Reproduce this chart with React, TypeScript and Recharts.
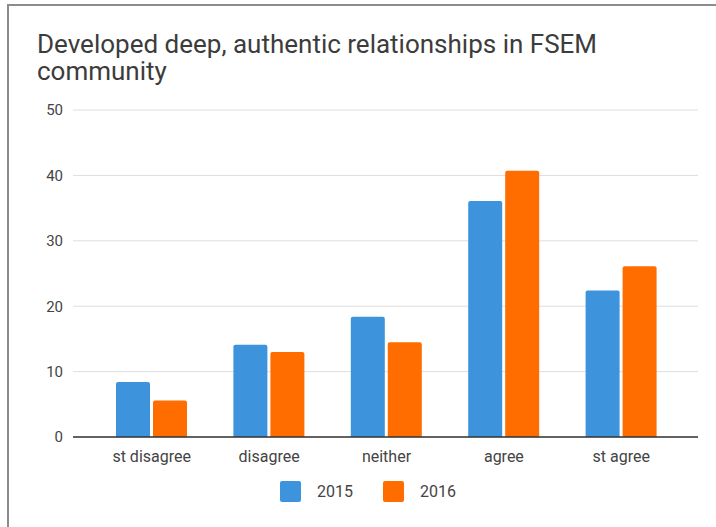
import { BarChart, Bar, XAxis, YAxis, CartesianGrid, Legend } from "recharts";

const categories = ["st disagree", "disagree", "neither", "agree", "st agree"];
const values2015 = [8.4, 14.1, 18.4, 36.1, 22.4];
const values2016 = [5.6, 13.0, 14.5, 40.7, 26.1];
const yTicks = [0, 10, 20, 30, 40, 50];

const data = categories.map((name, i) => ({
  name,
  "2015": values2015[i],
  "2016": values2016[i],
}));

const FONT = "Roboto, 'Noto Sans', sans-serif";

const renderLegend = (props: any) => {
  const { payload } = props;
  return (
    <div style={{ display: "flex", fontFamily: FONT, fontSize: 16, color: "#444", height: 21 }}>
      {payload.map((entry: any) => (
        <div key={entry.value} style={{ display: "flex", alignItems: "center", marginRight: 30 }}>
          <div style={{ width: 21, height: 21, background: entry.color, borderRadius: 2, marginRight: 16 }} />
          <span>{entry.value}</span>
        </div>
      ))}
    </div>
  );
};

export default function App() {
  return (
    <div style={{ position: "absolute", left: 0, top: 0, width: 716, height: 527, background: "#fff", overflow: "hidden" }}>
      {/* frame */}
      <div
        style={{
          position: "absolute",
          left: 7,
          top: 4,
          width: 716,
          height: 527,
          borderLeft: "2px solid #8c8c8c",
          borderTop: "2px solid #8c8c8c",
        }}
      />

      {/* TITLE */}
      <div
        style={{
          position: "absolute",
          left: 37,
          top: 31,
          fontFamily: FONT,
          fontSize: 26,
          lineHeight: "27px",
          color: "#3c3c3c",
          whiteSpace: "nowrap",
        }}
      >
        <div>Developed deep, authentic relationships in FSEM</div>
        <div>community</div>
      </div>

      <div style={{ position: "absolute", left: 0, top: 0 }}>
        <BarChart
          width={716}
          height={527}
          data={data}
          margin={{ top: 110, right: 18, bottom: 39, left: 0 }}
          barGap={3}
          barSize={34}
        >
          {/* GRID */}
          <CartesianGrid stroke="#dedede" vertical={false} />

          {/* AXES */}
          <XAxis
            dataKey="name"
            padding={{ left: 20, right: 18 }}
            axisLine={{ stroke: "#333", strokeWidth: 1.5 }}
            tickLine={false}
            tickSize={0}
            tickMargin={14}
            tick={{ fill: "#444", fontSize: 16, fontFamily: FONT }}
            interval={0}
          />
          <YAxis
            width={73}
            domain={[0, 50]}
            ticks={yTicks}
            axisLine={false}
            tickLine={false}
            tickSize={0}
            tickMargin={10}
            tick={{ fill: "#444", fontSize: 15, fontFamily: FONT }}
          />

          {/* LEGEND */}
          <Legend
            content={renderLegend}
            wrapperStyle={{ left: 280, top: 481, width: "auto" }}
          />

          {/* BARS */}
          <Bar dataKey="2015" fill="#3d94dc" radius={[2, 2, 0, 0]} isAnimationActive={false} />
          <Bar dataKey="2016" fill="#ff6d01" radius={[2, 2, 0, 0]} isAnimationActive={false} />
        </BarChart>
      </div>
    </div>
  );
}
